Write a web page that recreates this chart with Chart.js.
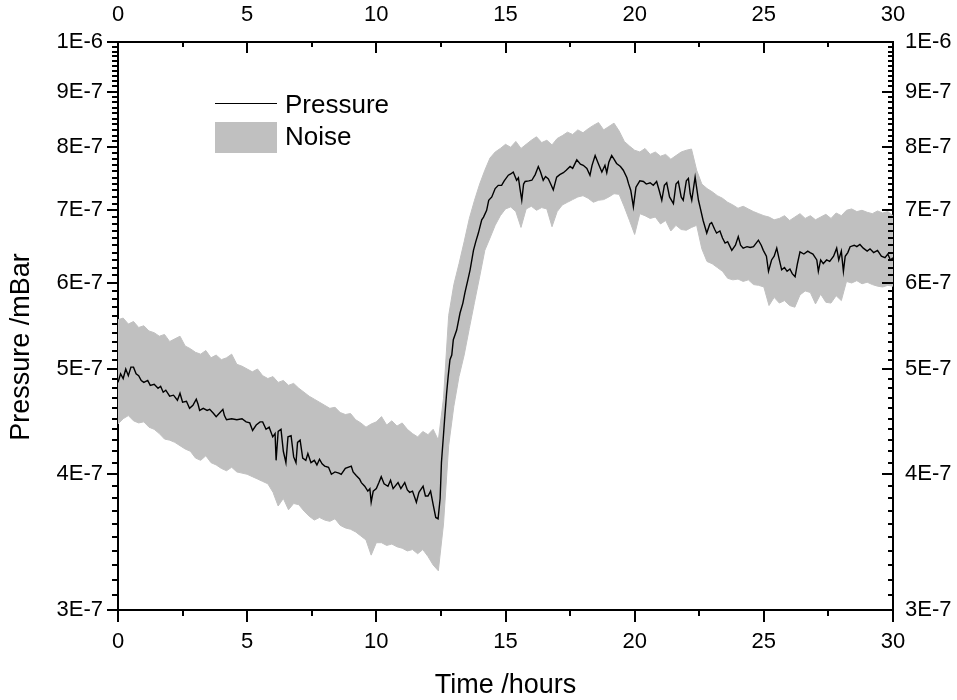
<!DOCTYPE html>
<html><head><meta charset="utf-8">
<script src="https://cdn.jsdelivr.net/npm/chart.js@4/dist/chart.umd.min.js"></script>
<style>html,body{margin:0;padding:0;background:#fff}#wrap{position:relative;width:957px;height:700px}</style>
</head><body><div id="wrap"><canvas id="c" width="957" height="700"></canvas></div>
<script>
// values in units of 1E-7 mBar
const UNIT = 1e-7;
const seriesNames = ['Pressure', 'Noise'];
const xTitle = 'Time /hours';
const yTitle = 'Pressure /mBar';

const pressureTime = [
  0, 0.1, 0.2, 0.3, 0.4, 0.5, 0.6, 0.7, 0.8, 0.9,
  1.0, 1.15, 1.25, 1.4, 1.55, 1.65, 1.75, 1.85, 2.0, 2.15,
  2.3, 2.4, 2.5, 2.65, 2.77, 2.9, 3.03, 3.1, 3.16, 3.3,
  3.45, 3.55, 3.7, 3.8, 3.95, 4.06, 4.12, 4.2, 4.4, 4.6,
  4.8, 4.96, 5.1, 5.21, 5.35, 5.5, 5.6, 5.73, 5.85, 5.99,
  6.08, 6.12, 6.2, 6.31, 6.4, 6.5, 6.58, 6.7, 6.8, 6.89,
  6.95, 7.05, 7.15, 7.27, 7.35, 7.47, 7.6, 7.7, 7.8, 7.9,
  8.0, 8.15, 8.26, 8.4, 8.55, 8.64, 8.8, 9.03, 9.1, 9.22,
  9.35, 9.42, 9.55, 9.67, 9.75, 9.8, 9.88, 10.0, 10.1, 10.19,
  10.3, 10.45, 10.55, 10.65, 10.84, 10.95, 11.1, 11.2, 11.29, 11.4,
  11.5, 11.55, 11.65, 11.81, 11.9, 12.0, 12.1, 12.2, 12.3, 12.39,
  12.47, 12.52, 12.6, 12.65, 12.72, 12.78, 12.85, 12.92, 12.98, 13.05,
  13.11, 13.24, 13.35, 13.43, 13.55, 13.63, 13.76, 13.85, 13.95, 14.08,
  14.15, 14.27, 14.35, 14.47, 14.6, 14.72, 14.85, 14.95, 15.11, 15.2,
  15.3, 15.43, 15.5, 15.56, 15.63, 15.7, 15.76, 15.9, 16.02, 16.15,
  16.27, 16.35, 16.46, 16.55, 16.66, 16.75, 16.85, 16.98, 17.1, 17.24,
  17.35, 17.5, 17.6, 17.76, 17.9, 18.01, 18.15, 18.27, 18.35, 18.47,
  18.6, 18.73, 18.85, 18.92, 19.0, 19.11, 19.2, 19.3, 19.45, 19.56,
  19.7, 19.76, 19.85, 19.95, 20.05, 20.2, 20.34, 20.45, 20.6, 20.72,
  20.85, 20.95, 21.05, 21.15, 21.24, 21.35, 21.5, 21.6, 21.69, 21.8,
  21.88, 22.0, 22.08, 22.15, 22.21, 22.3, 22.34, 22.47, 22.53, 22.65,
  22.72, 22.79, 22.91, 22.98, 23.1, 23.17, 23.3, 23.4, 23.5, 23.6,
  23.76, 23.9, 24.01, 24.1, 24.2, 24.35, 24.47, 24.6, 24.79, 24.9,
  24.98, 25.1, 25.18, 25.3, 25.4, 25.5, 25.6, 25.69, 25.8, 25.9,
  26.01, 26.1, 26.21, 26.3, 26.4, 26.55, 26.7, 26.79, 26.9, 27.05,
  27.11, 27.2, 27.3, 27.43, 27.55, 27.7, 27.82, 27.9, 28.0, 28.08,
  28.15, 28.25, 28.34, 28.5, 28.6, 28.72, 28.85, 29.0, 29.11, 29.25,
  29.4, 29.55, 29.69, 29.8, 29.9, 30.0
];
const pressureE7 = [
  4.86, 4.95, 4.90, 5.00, 4.93, 5.02, 5.02, 4.95, 4.93, 4.88,
  4.86, 4.88, 4.83, 4.84, 4.80, 4.82, 4.76, 4.78, 4.72, 4.73,
  4.68, 4.75, 4.66, 4.67, 4.60, 4.63, 4.69, 4.64, 4.58, 4.60,
  4.58, 4.59, 4.55, 4.52, 4.56, 4.59, 4.53, 4.49, 4.50, 4.49,
  4.50, 4.47, 4.46, 4.39, 4.44, 4.47, 4.47, 4.40, 4.42, 4.33,
  4.36, 4.12, 4.38, 4.40, 4.20, 4.10, 4.33, 4.34, 4.15, 4.10,
  4.28, 4.30, 4.14, 4.12, 4.18, 4.10, 4.12, 4.08, 4.13, 4.09,
  4.07, 4.06, 4.00, 4.02, 4.01, 4.00, 4.05, 4.07, 4.02, 3.99,
  3.96, 3.93, 3.90, 3.86, 3.88, 3.77, 3.86, 3.88, 3.93, 3.98,
  3.92, 3.90, 3.95, 3.88, 3.93, 3.88, 3.93, 3.87, 3.85, 3.86,
  3.80, 3.77, 3.85, 3.90, 3.82, 3.82, 3.86, 3.75, 3.65, 3.64,
  3.80, 4.10, 4.35, 4.52, 4.75, 4.92, 5.10, 5.15, 5.32, 5.38,
  5.43, 5.63, 5.75, 5.88, 6.05, 6.17, 6.43, 6.55, 6.67, 6.86,
  6.90, 7.00, 7.15, 7.20, 7.33, 7.38, 7.38, 7.45, 7.54, 7.56,
  7.59, 7.46, 7.50, 7.33, 7.15, 7.40, 7.44, 7.45, 7.46, 7.55,
  7.68, 7.60, 7.46, 7.52, 7.48, 7.40, 7.31, 7.51, 7.55, 7.58,
  7.62, 7.68, 7.65, 7.79, 7.72, 7.70, 7.65, 7.54, 7.70, 7.86,
  7.72, 7.59, 7.70, 7.58, 7.75, 7.86, 7.80, 7.73, 7.68, 7.62,
  7.50, 7.41, 7.30, 7.05, 7.35, 7.45, 7.44, 7.40, 7.42, 7.38,
  7.44, 7.30, 7.15, 7.38, 7.42, 7.20, 7.10, 7.40, 7.44, 7.20,
  7.15, 7.45, 7.49, 7.25, 7.15, 7.40, 7.51, 7.15, 7.05, 6.85,
  6.76, 6.67, 6.80, 6.82, 6.72, 6.67, 6.70, 6.60, 6.53, 6.55,
  6.43, 6.50, 6.62, 6.50, 6.46, 6.48, 6.47, 6.48, 6.57, 6.50,
  6.43, 6.35, 6.15, 6.30, 6.35, 6.46, 6.30, 6.17, 6.20, 6.15,
  6.18, 6.12, 6.08, 6.25, 6.41, 6.38, 6.42, 6.40, 6.38, 6.30,
  6.15, 6.30, 6.25, 6.30, 6.28, 6.35, 6.46, 6.30, 6.42, 6.15,
  6.35, 6.40, 6.48, 6.50, 6.48, 6.51, 6.46, 6.42, 6.45, 6.40,
  6.43, 6.35, 6.33, 6.38, 6.30, 6.33
];

const noiseTime = [
  0, 0.2, 0.4, 0.6, 0.8, 1.0, 1.2, 1.4, 1.6, 1.8,
  2.0, 2.2, 2.4, 2.6, 2.8, 3.0, 3.2, 3.4, 3.6, 3.8,
  4.0, 4.2, 4.4, 4.6, 4.8, 5.0, 5.2, 5.4, 5.6, 5.8,
  6.0, 6.2, 6.4, 6.6, 6.8, 7.0, 7.2, 7.4, 7.6, 7.8,
  8.0, 8.2, 8.4, 8.6, 8.8, 9.0, 9.2, 9.4, 9.6, 9.8,
  10.0, 10.2, 10.4, 10.6, 10.8, 11.0, 11.2, 11.4, 11.6, 11.8,
  12.0, 12.2, 12.4, 12.6, 12.8, 13.0, 13.2, 13.4, 13.6, 13.8,
  14.0, 14.2, 14.4, 14.6, 14.8, 15.0, 15.2, 15.4, 15.6, 15.8,
  16.0, 16.2, 16.4, 16.6, 16.8, 17.0, 17.2, 17.4, 17.6, 17.8,
  18.0, 18.2, 18.4, 18.6, 18.8, 19.0, 19.2, 19.4, 19.6, 19.8,
  20.0, 20.2, 20.4, 20.6, 20.8, 21.0, 21.2, 21.4, 21.6, 21.8,
  22.0, 22.2, 22.4, 22.6, 22.8, 23.0, 23.2, 23.4, 23.6, 23.8,
  24.0, 24.2, 24.4, 24.6, 24.8, 25.0, 25.2, 25.4, 25.6, 25.8,
  26.0, 26.2, 26.4, 26.6, 26.8, 27.0, 27.2, 27.4, 27.6, 27.8,
  28.0, 28.2, 28.4, 28.6, 28.8, 29.0, 29.2, 29.4, 29.6, 29.8,
  30.0
];
const noiseUpperE7 = [
  5.55, 5.57, 5.50, 5.53, 5.46, 5.48, 5.42, 5.40, 5.36, 5.38,
  5.30, 5.33, 5.36, 5.25, 5.22, 5.18, 5.16, 5.20, 5.12, 5.15,
  5.10, 5.12, 5.16, 5.05, 5.03, 5.00, 4.97, 5.00, 4.93, 4.90,
  4.92, 4.86, 4.88, 4.83, 4.85, 4.80, 4.76, 4.72, 4.69, 4.66,
  4.63, 4.60, 4.61, 4.56, 4.54, 4.55, 4.49, 4.46, 4.42, 4.45,
  4.47, 4.52, 4.44, 4.48, 4.43, 4.46, 4.40, 4.36, 4.33, 4.38,
  4.35, 4.40, 4.30, 4.70, 5.60, 5.98, 6.25, 6.55, 6.88, 7.15,
  7.40, 7.62, 7.82, 7.92, 7.98, 8.05, 8.00, 8.10, 7.98, 8.05,
  8.12, 8.18, 8.08, 8.12, 8.04, 8.15, 8.20, 8.26, 8.22, 8.30,
  8.25, 8.32, 8.38, 8.43, 8.30, 8.36, 8.42, 8.28, 8.10, 8.02,
  7.95, 7.92, 7.98, 7.88, 7.92, 7.85, 7.88, 7.80, 7.86, 7.92,
  7.95, 7.97, 7.62, 7.40, 7.33, 7.28, 7.22, 7.18, 7.12, 7.08,
  7.03, 7.06, 7.02, 6.98, 6.95, 6.92, 6.90, 6.86, 6.88, 6.92,
  6.85, 6.90, 6.95, 6.88, 6.92, 6.86, 6.90, 6.94, 6.88, 6.96,
  6.92, 7.00, 7.02, 6.98, 7.00, 6.97, 6.95, 6.99, 6.96, 6.98,
  6.92
];
const noiseLowerE7 = [
  4.45, 4.50, 4.53, 4.48, 4.46, 4.47, 4.42, 4.40, 4.36, 4.31,
  4.30, 4.28, 4.25, 4.22, 4.20, 4.14, 4.12, 4.16, 4.10, 4.08,
  4.05, 4.03, 4.06, 4.02, 4.01, 4.00, 3.98, 3.96, 3.94, 3.92,
  3.85, 3.74, 3.80, 3.71, 3.76, 3.75, 3.70, 3.66, 3.63, 3.65,
  3.63, 3.62, 3.64, 3.59, 3.57, 3.56, 3.54, 3.51, 3.48, 3.37,
  3.46, 3.46, 3.44, 3.45, 3.43, 3.42, 3.40, 3.41, 3.38, 3.41,
  3.36, 3.30, 3.26, 3.60, 4.25, 4.62, 4.92, 5.15, 5.45, 5.76,
  6.08, 6.43, 6.60, 6.78, 6.92, 7.02, 7.05, 6.98, 6.75, 7.02,
  7.06, 7.00, 7.04, 7.02, 6.76, 6.98, 7.08, 7.12, 7.16, 7.20,
  7.22, 7.18, 7.12, 7.15, 7.16, 7.20, 7.25, 7.24, 7.05, 6.85,
  6.65, 6.95, 6.92, 6.88, 6.90, 6.80, 6.85, 6.70, 6.78, 6.72,
  6.71, 6.75, 6.78, 6.45, 6.28, 6.25, 6.20, 6.15, 6.06, 6.04,
  6.05, 6.02, 6.04, 5.98, 5.97, 5.95, 5.72, 5.82, 5.75, 5.78,
  5.72, 5.70, 5.85, 5.90, 5.88, 5.74, 5.86, 5.76, 5.75, 5.84,
  5.78, 6.02, 6.00, 6.03, 5.99, 6.01, 5.98, 5.96, 5.95, 5.97,
  5.96
];

const xMajorTicks = [0, 5, 10, 15, 20, 25, 30];
const xTickLabels = ['0', '5', '10', '15', '20', '25', '30'];
const yMajorTicks = [3e-7, 4e-7, 5e-7, 6e-7, 7e-7, 8e-7, 9e-7, 1e-6];
const yTickLabels = ['3E-7', '4E-7', '5E-7', '6E-7', '7E-7', '8E-7', '9E-7', '1E-6'];

// tick lists (major + minor subdivisions)
function xTicks() {
  const out = [];
  for (let i = 0; i < xMajorTicks.length; i++) {
    out.push({ value: xMajorTicks[i], lbl: xTickLabels[i] });
    if (i < xMajorTicks.length - 1) out.push({ value: (xMajorTicks[i] + xMajorTicks[i + 1]) / 2, lbl: '' });
  }
  return out;
}
function yTicks() {
  const out = [];
  for (let i = 0; i < yMajorTicks.length; i++) {
    out.push({ value: yMajorTicks[i], lbl: yTickLabels[i] });
    if (i < yMajorTicks.length - 1) {
      const step = (yMajorTicks[i + 1] - yMajorTicks[i]) / 10;
      for (let k = 1; k < 10; k++) out.push({ value: yMajorTicks[i] + k * step, lbl: '' });
    }
  }
  return out;
}

const FONT = "'Liberation Sans', Arial, sans-serif";
Chart.defaults.font.family = FONT;
Chart.defaults.color = '#000';

const NOISE_COLOR = '#c0c0c0';
const LINE_COLOR = '#000000';

const pressureData = pressureTime.map((t, i) => ({ x: t, y: pressureE7[i] * UNIT }));
const upperData = noiseTime.map((t, i) => ({ x: t, y: noiseUpperE7[i] * UNIT }));
const lowerData = noiseTime.map((t, i) => ({ x: t, y: noiseLowerE7[i] * UNIT }));

const tickFont = { family: FONT, size: 22 };

function xAxis(pos, size, pad) {
  return {
    type: 'linear', position: pos, min: 0, max: 30,
    afterBuildTicks: s => { s.ticks = xTicks(); },
    afterFit: s => { s.height = size; },
    grid: { drawOnChartArea: false, drawTicks: false },
    border: { display: true, color: '#000', width: 2 },
    ticks: { autoSkip: false, maxRotation: 0, padding: pad, font: tickFont, color: '#000',
      callback: (v, i, ticks) => ticks[i].lbl }
  };
}
function yAxis(pos, size, pad) {
  return {
    type: 'logarithmic', position: pos, min: 3e-7, max: 1e-6,
    afterBuildTicks: s => { s.ticks = yTicks(); },
    afterFit: s => { s.width = size; },
    grid: { drawOnChartArea: false, drawTicks: false },
    border: { display: true, color: '#000', width: 2 },
    ticks: { autoSkip: false, padding: pad, font: tickFont, color: '#000',
      callback: (v, i, ticks) => ticks[i].lbl }
  };
}

// tick marks: bottom/left outward, top/right inward
const tickMarks = {
  id: 'tickMarks',
  afterDraw(chart) {
    const ctx = chart.ctx;
    ctx.save();
    ctx.strokeStyle = '#000';
    ctx.lineWidth = 2;
    const spec = [
      ['x', 'bottom', 12, 6], ['x2', 'top', 11, 5], ['y', 'left', 11, 6], ['y2', 'right', 11, 5]
    ];
    const a = chart.chartArea;
    for (const [id, side, majL, minL] of spec) {
      const s = chart.scales[id];
      s.ticks.forEach(t => {
        const len = t.label ? majL : minL;
        const p = Math.round(s.getPixelForValue(t.value));
        ctx.beginPath();
        if (side === 'bottom') { ctx.moveTo(p, a.bottom); ctx.lineTo(p, a.bottom + len); }
        else if (side === 'top') { ctx.moveTo(p, a.top); ctx.lineTo(p, a.top + len); }
        else if (side === 'left') { ctx.moveTo(a.left, p); ctx.lineTo(a.left - len, p); }
        else { ctx.moveTo(a.right, p); ctx.lineTo(a.right - len, p); }
        ctx.stroke();
      });
    }
    ctx.restore();
  }
};

// y title and in-plot legend
const decorations = {
  id: 'decorations',
  afterDraw(chart) {
    const ctx = chart.ctx;
    const a = chart.chartArea;
    ctx.save();
    ctx.fillStyle = '#000';
    ctx.font = '27px ' + FONT;
    ctx.translate(a.left - 96, a.top + 305);
    ctx.rotate(-Math.PI / 2);
    ctx.textAlign = 'center';
    ctx.textBaseline = 'middle';
    ctx.fillText(yTitle, 0, 0);
    ctx.restore();

    ctx.save();
    const lx = a.left + 97, lw = 62;
    ctx.strokeStyle = LINE_COLOR;
    ctx.lineWidth = 1.2;
    ctx.beginPath();
    ctx.moveTo(lx, a.top + 61.5); ctx.lineTo(lx + lw, a.top + 61.5);
    ctx.stroke();
    ctx.fillStyle = NOISE_COLOR;
    ctx.fillRect(lx, a.top + 80, lw, 31);
    ctx.fillStyle = '#000';
    ctx.font = '26px ' + FONT;
    ctx.textAlign = 'left';
    ctx.textBaseline = 'alphabetic';
    ctx.fillText(seriesNames[0], lx + 70, a.top + 71);
    ctx.fillText(seriesNames[1], lx + 70, a.top + 103);
    ctx.restore();
  }
};

new Chart(document.getElementById('c'), {
  type: 'line',
  data: {
    datasets: [
      { label: seriesNames[0], data: pressureData, borderColor: LINE_COLOR, borderWidth: 1.4,
        pointRadius: 0, tension: 0, fill: false, order: 0 },
      { label: seriesNames[1] + ' low', data: lowerData, borderColor: NOISE_COLOR, borderWidth: 1,
        pointRadius: 0, tension: 0, fill: false, order: 1 },
      { label: seriesNames[1], data: upperData, borderColor: NOISE_COLOR, borderWidth: 1,
        backgroundColor: NOISE_COLOR, pointRadius: 0, tension: 0, fill: '-1', order: 2 }
    ]
  },
  options: {
    responsive: false,
    devicePixelRatio: 1,
    animation: false,
    layout: { padding: 0 },
    plugins: { legend: { display: false }, tooltip: { enabled: false } },
    scales: {
      x: Object.assign(xAxis('bottom', 90, 19), {
        title: { display: true, text: xTitle, font: { family: FONT, size: 27 }, color: '#000', padding: { top: 0, bottom: -2 } }
      }),
      x2: xAxis('top', 42, 14),
      y: yAxis('left', 118, 15),
      y2: yAxis('right', 64, 12)
    }
  },
  plugins: [tickMarks, decorations]
});
</script>
</body></html>
